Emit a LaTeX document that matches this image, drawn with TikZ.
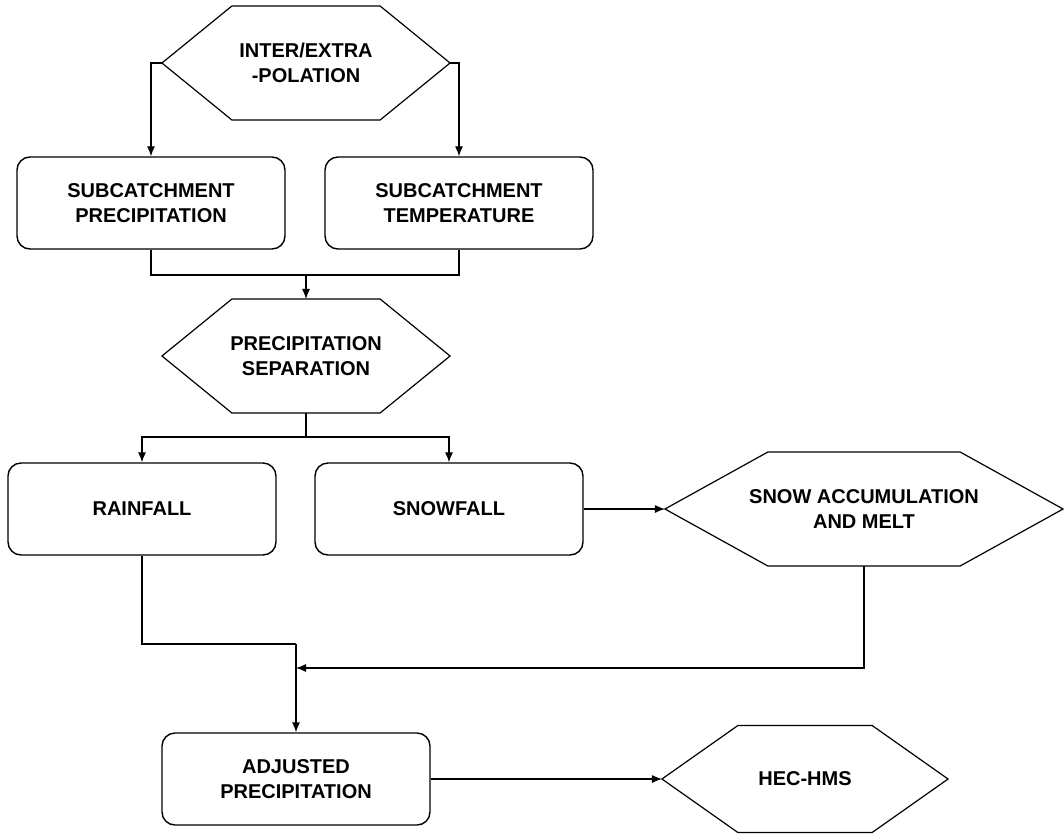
\documentclass[tikz,border=0pt]{standalone}
\usepackage{fontspec}
\setmainfont{Liberation Sans}
\usetikzlibrary{arrows.meta,calc}
\tikzset{
  stepbox/.style={draw,line width=1.4pt,rounded corners=13pt,minimum width=268pt,
    minimum height=92pt,inner sep=0pt,align=center},
  hexa/.style n args={3}{minimum width=#1,minimum height=#2,inner sep=0pt,align=center,
    append after command={\pgfextra{\draw[line width=1.2pt]
      (\tikzlastnode.west) -- ($(\tikzlastnode.north west)+(#3,0)$)
      -- ($(\tikzlastnode.north east)+(-#3,0)$) -- (\tikzlastnode.east)
      -- ($(\tikzlastnode.south east)+(-#3,0)$) -- ($(\tikzlastnode.south west)+(#3,0)$)
      -- cycle;}}},
}
\begin{document}
\begin{tikzpicture}[x=1pt,y=-1pt,line width=1.1pt,>={Latex[length=10pt,width=8pt]},
 line join=miter,font=\fontsize{20}{25}\selectfont\bfseries]
\useasboundingbox (0,0) rectangle (1064,833);
% nodes
\node[hexa={287pt}{113pt}{70pt}] (interp) at (306,63) {INTER/EXTRA\\-POLATION};
\node[stepbox] (sprec) at (151,203) {SUBCATCHMENT\\PRECIPITATION};
\node[stepbox] (stemp) at (459,203) {SUBCATCHMENT\\TEMPERATURE};
\node[hexa={287pt}{113pt}{70pt}] (psep) at (306,356) {PRECIPITATION\\SEPARATION};
\node[stepbox] (rain) at (142,509) {RAINFALL};
\node[stepbox] (snow) at (449,509) {SNOWFALL};
\node[hexa={397pt}{113pt}{103pt}] (melt) at (864,509) {SNOW ACCUMULATION\\AND MELT};
\node[stepbox] (adj) at (296,779) {ADJUSTED\\PRECIPITATION};
\node[hexa={285pt}{106pt}{76pt}] (hms) at (805,779) {HEC-HMS};
% junctions
\coordinate (j1) at (306,275);
\coordinate (j2) at (306,437);
\coordinate (j3) at (296,644);
\coordinate (j4) at (296,668);
% connectors
\draw[->] (interp.west) -| (sprec.north);
\draw[->] (interp.east) -| (stemp.north);
\draw (sprec.south) |- (j1) -| (stemp.south);
\draw[->] (j1) -- (psep.north);
\draw (psep.south) -- (j2);
\draw[->] (j2) -| (rain.north);
\draw[->] (j2) -| (snow.north);
\draw[->] (snow.east) -- (melt.west);
\draw (rain.south) |- (j3);
\draw[->] (j3) -- (adj.north);
\draw[->] (melt.south) |- (j4);
\draw[->] (adj.east) -- (hms.west);
\end{tikzpicture}
\end{document}
